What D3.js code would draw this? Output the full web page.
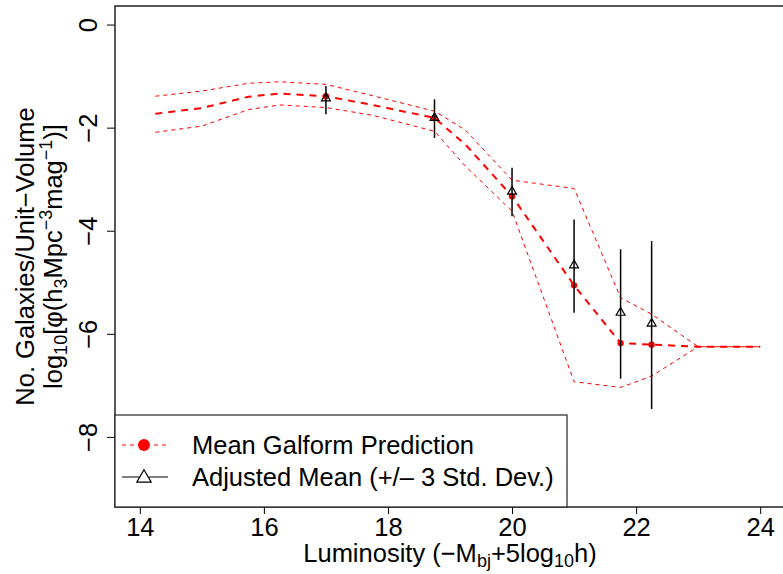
<!DOCTYPE html>
<html>
<head>
<meta charset="utf-8">
<script src="https://cdn.jsdelivr.net/npm/d3@7"></script>
<style>
  body { margin: 0; background: #fff; }
  svg { display: block; font-family: "Liberation Sans", Arial, Helvetica, sans-serif; }
</style>
</head>
<body>
<svg id="chart" width="783" height="574"></svg>
<script>
// luminosity grid of the galform prediction curves
var lum = [14.25, 15, 15.75, 16.25, 17, 17.75, 18.75, 19.25, 20, 21, 21.75, 22.25, 23, 24];
var meanPred  = [-1.73, -1.62, -1.40, -1.34, -1.39, -1.56, -1.81, -2.33, -3.33, -5.06, -6.18, -6.21, -6.25, -6.25];
var upperBand = [-1.39, -1.29, -1.14, -1.11, -1.16, -1.38, -1.68, -2.05, -3.02, -3.18, -5.30, -5.62, -6.25, -6.25];
var lowerBand = [-2.09, -1.97, -1.65, -1.56, -1.61, -1.76, -2.07, -2.75, -3.62, -6.93, -7.04, -6.82, -6.25, -6.25];

// observed bins
var obsLum      = [17, 18.75, 20, 21, 21.75, 22.25];
var obsMeanPred = [-1.39, -1.81, -3.33, -5.06, -6.18, -6.21];
var adjMean     = [-1.43, -1.81, -3.24, -4.67, -5.59, -5.80];
var adjLow      = [-1.74, -2.20, -3.72, -5.59, -6.87, -7.46];
var adjHigh     = [-1.19, -1.45, -2.78, -3.78, -4.36, -4.20];

var xTicks = [14, 16, 18, 20, 22, 24];
var yTicks = [0, -2, -4, -6, -8];
var legendLabels = ['Mean Galform Prediction', 'Adjusted Mean (+/\u2013 3 Std. Dev.)'];

var svg = d3.select('#chart');
var pLeft = 115, pRight = 785, pTop = 6, pBottom = 507;

var x = d3.scaleLinear().domain([13.6, 24.4]).range([pLeft, pRight]);
var y = d3.scaleLinear().domain([0.36, -9.36]).range([pTop, pBottom]);

var fmt = function (d) { return d < 0 ? '\u2212' + Math.abs(d) : String(d); };

//////////////////////////////////////////////////////////////////////////
// curves
var line = d3.line().x(function (d) { return x(d[0]); }).y(function (d) { return y(d[1]); });
var zipped = function (xs, ys) { return xs.map(function (v, i) { return [v, ys[i]]; }); };

var plot = svg.append('g');

[upperBand, lowerBand].forEach(function (band) {
  plot.append('path').datum(zipped(lum, band)).attr('d', line)
    .attr('fill', 'none').attr('stroke', '#ff0000').attr('stroke-width', 1)
    .attr('stroke-dasharray', '4,4');
});

plot.append('path').datum(zipped(lum, meanPred)).attr('d', line)
  .attr('fill', 'none').attr('stroke', '#ff0000').attr('stroke-width', 2)
  .attr('stroke-dasharray', '7,6');

plot.selectAll('circle.pred').data(obsLum).enter().append('circle')
  .attr('class', 'pred')
  .attr('cx', function (d) { return x(d); })
  .attr('cy', function (d, i) { return y(obsMeanPred[i]); })
  .attr('r', 3.2).attr('fill', '#ff0000');

// error bars + adjusted means
plot.selectAll('line.err').data(obsLum).enter().append('line')
  .attr('class', 'err')
  .attr('x1', function (d) { return x(d); }).attr('x2', function (d) { return x(d); })
  .attr('y1', function (d, i) { return y(adjHigh[i]); })
  .attr('y2', function (d, i) { return y(adjLow[i]); })
  .attr('stroke', '#000').attr('stroke-width', 1.5);

var tri = d3.symbol().type(d3.symbolTriangle).size(34);
plot.selectAll('path.adj').data(obsLum).enter().append('path')
  .attr('class', 'adj')
  .attr('d', tri)
  .attr('transform', function (d, i) { return 'translate(' + x(d) + ',' + y(adjMean[i]) + ')'; })
  .attr('fill', 'none').attr('stroke', '#000').attr('stroke-width', 1.2);

//////////////////////////////////////////////////////////////////////////
// axes
var xAxis = svg.append('g').attr('transform', 'translate(0,' + pBottom + ')')
  .call(d3.axisBottom(x).tickValues(xTicks).tickSize(7).tickPadding(4).tickFormat(fmt));
xAxis.select('.domain').remove();
xAxis.selectAll('text').attr('font-size', 25.5).attr('fill', '#000').attr('font-family', null);

var yAxis = svg.append('g').attr('transform', 'translate(' + pLeft + ',0)')
  .call(d3.axisLeft(y).tickValues(yTicks).tickSize(8).tickFormat(fmt));
yAxis.select('.domain').remove();
yAxis.selectAll('text')
  .attr('font-size', 25.5).attr('fill', '#000').attr('font-family', null)
  .attr('x', null).attr('dy', null)
  .attr('text-anchor', 'middle')
  .attr('transform', 'translate(-18,0) rotate(-90)');

// box (right side is beyond the page)
svg.append('path')
  .attr('d', 'M' + (pRight + 10) + ',' + pTop + 'H' + pLeft + 'V' + pBottom + 'H' + (pRight + 10))
  .attr('fill', 'none').attr('stroke', '#222').attr('stroke-width', 1.5);

//////////////////////////////////////////////////////////////////////////
// titles
var xt = svg.append('text').attr('x', (pLeft + pRight) / 2).attr('y', 562)
  .attr('text-anchor', 'middle').attr('font-size', 25.5);
xt.append('tspan').text('Luminosity (\u2212M');
xt.append('tspan').text('bj').attr('font-size', 18).attr('dy', 5);
xt.append('tspan').text('+5log').attr('dy', -5);
xt.append('tspan').text('10').attr('font-size', 18).attr('dy', 5);
xt.append('tspan').text('h)').attr('dy', -5);

var cy = (pTop + pBottom) / 2;
svg.append('text').attr('transform', 'translate(34,' + cy + ') rotate(-90)')
  .attr('text-anchor', 'middle').attr('font-size', 25.5)
  .text('No. Galaxies/Unit\u2212Volume');

var yt = svg.append('text').attr('transform', 'translate(62,' + cy + ') rotate(-90)')
  .attr('text-anchor', 'middle').attr('font-size', 25.5);
yt.append('tspan').text('log');
yt.append('tspan').text('10').attr('font-size', 18).attr('dy', 5);
yt.append('tspan').text('[\u03c6(h').attr('dy', -5);
yt.append('tspan').text('3').attr('font-size', 18).attr('dy', 5);
yt.append('tspan').text('Mpc').attr('dy', -5);
yt.append('tspan').text('\u22123').attr('font-size', 18).attr('dy', -10);
yt.append('tspan').text('mag').attr('dy', 10);
yt.append('tspan').text('\u22121').attr('font-size', 18).attr('dy', -10);
yt.append('tspan').text(')]').attr('dy', 10);

//////////////////////////////////////////////////////////////////////////
// legend
var lg = svg.append('g');
lg.append('rect').attr('x', pLeft).attr('y', 415).attr('width', 452).attr('height', pBottom - 415)
  .attr('fill', '#fff').attr('stroke', '#222').attr('stroke-width', 1.2);

var rows = [445, 477];
lg.append('line').attr('x1', 122).attr('x2', 168).attr('y1', rows[0]).attr('y2', rows[0])
  .attr('stroke', '#ff0000').attr('stroke-width', 1).attr('stroke-dasharray', '4,4');
lg.append('circle').attr('cx', 144).attr('cy', rows[0]).attr('r', 6).attr('fill', '#ff0000');
lg.append('line').attr('x1', 122).attr('x2', 168).attr('y1', rows[1]).attr('y2', rows[1])
  .attr('stroke', '#000').attr('stroke-width', 1);
lg.append('path').attr('d', d3.symbol().type(d3.symbolTriangle).size(90))
  .attr('transform', 'translate(144,' + (rows[1] + 1) + ')')
  .attr('fill', '#fff').attr('stroke', '#000').attr('stroke-width', 1.2);

lg.selectAll('text').data(legendLabels).enter().append('text')
  .attr('x', 192).attr('y', function (d, i) { return rows[i] + 9; })
  .attr('font-size', 25.5).text(function (d) { return d; });
</script>
</body>
</html>
